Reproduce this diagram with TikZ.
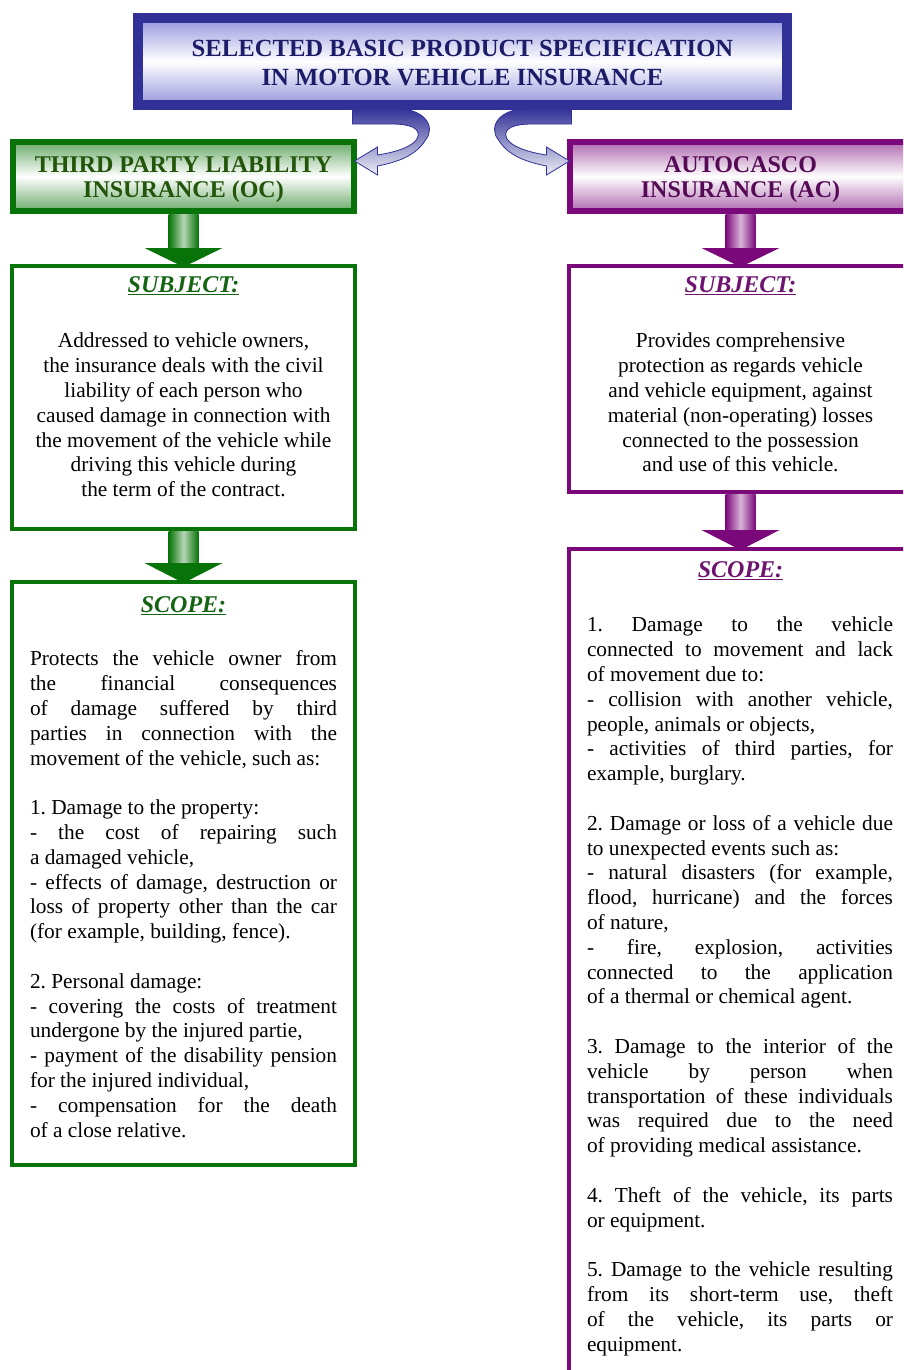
\documentclass[tikz,border=0pt]{standalone}
\usepackage{fontspec}
\setmainfont{Liberation Serif}
\usetikzlibrary{calc}
\definecolor{tblue}{RGB}{48,48,150}
\definecolor{tlav}{RGB}{150,150,222}
\definecolor{tgreen}{RGB}{8,115,8}
\definecolor{tpurple}{RGB}{122,8,122}
\definecolor{navytext}{RGB}{28,28,105}
\definecolor{octext}{RGB}{35,85,10}
\definecolor{actext}{RGB}{85,10,85}
\definecolor{ocsubj}{RGB}{20,100,20}
\definecolor{acsubj}{RGB}{110,20,110}
\tikzset{
  frame/.style={draw, inner sep=0pt, outer sep=0pt},
  headbox/.style={frame, line width=4.5pt, minimum width=255.75pt, minimum height=51.75pt},
  contentbox/.style={frame, fill=white, line width=3.375pt, minimum width=257.25pt},
  bodytext/.style={inner sep=0pt, outer sep=0pt, font=\fontsize{16}{18.6}\selectfont},
  headtext/.style={inner sep=0pt, outer sep=0pt, anchor=north, align=center, font=\fontsize{18}{18.75}\selectfont\bfseries},
  sectlabel/.style={inner sep=0pt, outer sep=0pt, anchor=base, font=\fontsize{18}{20}\selectfont\bfseries\itshape},
  ribbon/.style={top color=tblue, bottom color=tblue!8, draw=tblue, line width=0.6pt}
}
\newcommand\parsetup{\parindent0pt\parskip0pt\leftskip0pt\rightskip0pt\parfillskip0pt plus 1fil
  \tolerance10000\hbadness10000\hfuzz20pt\hyphenpenalty10000\frenchspacing
  \spaceskip=4pt plus 20pt minus 1.8pt\xspaceskip=\spaceskip}
\begin{document}
\begin{tikzpicture}[x=0.75pt,y=-0.75pt]
\useasboundingbox (0,0) rectangle (903,1370);
\clip (0,0) rectangle (903,1370);

% ---------- title ----------
\node[frame, draw=tblue, line width=7.5pt, top color=tlav, bottom color=tlav, middle color=white,
      minimum width=486.75pt, minimum height=65.25pt] (title) at (462.5,61.5) {};
\node[inner sep=0pt, outer sep=0pt, anchor=north, align=center, text=navytext,
      font=\fontsize{18.5}{21}\selectfont\bfseries] (titletxt) at (462.5,37.4)
  {\strut SELECTED BASIC PRODUCT SPECIFICATION\\IN MOTOR VEHICLE INSURANCE};

% ---------- header boxes ----------
\node[headbox, draw=tgreen, top color=tgreen!60, bottom color=tgreen!60, middle color=white] (ochead) at (183.5,176.5) {};
\node[headtext, text=octext] (ocheadtxt) at (183.5,154.5) {\strut THIRD PARTY LIABILITY\\INSURANCE (OC)};

\node[headbox, draw=tpurple, top color=tpurple!60, bottom color=tpurple!60, middle color=white] (achead) at (740.5,176.5) {};
\node[headtext, text=actext] (acheadtxt) at (740.5,154.5) {\strut AUTOCASCO\\INSURANCE (AC)};

% ---------- content boxes ----------
\node[contentbox, draw=tgreen, minimum height=197.25pt] (ocsub) at (183.5,397.5) {};
\node[contentbox, draw=tgreen, minimum height=437.25pt] (ocscope) at (183.5,873.5) {};
\node[contentbox, draw=tpurple, minimum height=169.5pt] (acsub) at (740.5,379) {};
\node[contentbox, draw=tpurple, minimum height=638.25pt] (acscope) at (740.5,974.5) {};

% ---------- curved arrows from the title ----------
\begin{scope}[shift={($(ochead.east)+(0.5,-15.5)$)}]
\shadedraw[ribbon] (-2,-53) -- (37,-53) .. controls (73,-53) and (81,-33) .. (71,-21)
  .. controls (61,-5) and (43,1) .. (23,5) -- (23,14) -- (0,0) -- (23,-14) -- (23,-6)
  .. controls (43,-9) and (59,-15) .. (63,-23) .. controls (67,-33) and (55,-37) .. (37,-37)
  -- (-2,-37) -- cycle;
\end{scope}
\begin{scope}[shift={($(achead.west)+(-0.5,-15.5)$)}, xscale=-1]
\shadedraw[ribbon] (-2,-53) -- (37,-53) .. controls (73,-53) and (81,-33) .. (71,-21)
  .. controls (61,-5) and (43,1) .. (23,5) -- (23,14) -- (0,0) -- (23,-14) -- (23,-6)
  .. controls (43,-9) and (59,-15) .. (63,-23) .. controls (67,-33) and (55,-37) .. (37,-37)
  -- (-2,-37) -- cycle;
\end{scope}

% ---------- block arrows ----------
\shade[left color=tgreen, right color=tgreen, middle color=tgreen!30] ($(ochead.south)+(-15,3)$) rectangle ($(ocsub.north)+(15,-18)$);
\fill[tgreen] ($(ocsub.north)+(-39,-18)$) -- ($(ocsub.north)+(39,-18)$) -- ($(ocsub.north)+(0,1)$) -- cycle;
\shade[left color=tgreen, right color=tgreen, middle color=tgreen!30] ($(ocsub.south)+(-15,2)$) rectangle ($(ocscope.north)+(15,-19)$);
\fill[tgreen] ($(ocscope.north)+(-39,-19)$) -- ($(ocscope.north)+(39,-19)$) -- ($(ocscope.north)+(0,1)$) -- cycle;

\shade[left color=tpurple, right color=tpurple, middle color=tpurple!30] ($(achead.south)+(-15,3)$) rectangle ($(acsub.north)+(15,-18)$);
\fill[tpurple] ($(acsub.north)+(-39,-18)$) -- ($(acsub.north)+(39,-18)$) -- ($(acsub.north)+(0,1)$) -- cycle;
\shade[left color=tpurple, right color=tpurple, middle color=tpurple!30] ($(acsub.south)+(-15,2)$) rectangle ($(acscope.north)+(15,-19)$);
\fill[tpurple] ($(acscope.north)+(-39,-19)$) -- ($(acscope.north)+(39,-19)$) -- ($(acscope.north)+(0,1)$) -- cycle;

% ---------- section labels ----------
\node[sectlabel, text=ocsubj] (ocsublab) at (183.5,292) {\underline{SUBJECT:}};
\node[sectlabel, text=ocsubj] (ocscopelab) at (183.5,612) {\underline{SCOPE:}};
\node[sectlabel, text=acsubj] (acsublab) at (740.5,292) {\underline{SUBJECT:}};
\node[sectlabel, text=acsubj] (acscopelab) at (740.5,577) {\underline{SCOPE:}};

% ---------- subject texts ----------
\node[bodytext, anchor=north, align=center] (ocsubtxt) at (183.5,330.6)
 {\strut Addressed to vehicle owners,\\
  the insurance deals with the civil\\
  liability of each person who\\
  caused damage in connection with\\
  the movement of the vehicle while\\
  driving this vehicle during\\
  the term of the contract.};

\node[bodytext, anchor=north, align=center] (acsubtxt) at (740.5,330.6)
 {\strut Provides comprehensive\\
  protection as regards vehicle\\
  and vehicle equipment, against\\
  material (non-operating) losses\\
  connected to the possession\\
  and use of this vehicle.};

% ---------- scope texts ----------
\node[bodytext, anchor=north west, text width=230.25pt] (ocscopetxt) at (30,648.6)
 {\parsetup\strut Protects the vehicle owner from\linebreak
  the financial consequences\linebreak
  of damage suffered by third\linebreak
  parties in connection with the\linebreak
  movement of the vehicle, such as:\par
  \vskip\baselineskip
  1. Damage to the property:\par
  - the cost of repairing such\linebreak
  a damaged vehicle,\par
  - effects of damage, destruction or\linebreak
  loss of property other than the car\linebreak
  (for example, building, fence).\par
  \vskip\baselineskip
  2. Personal damage:\par
  - covering the costs of treatment\linebreak
  undergone by the injured partie,\par
  - payment of the disability pension\linebreak
  for the injured individual,\par
  - compensation for the death\linebreak
  of a close relative.\par};

\node[bodytext, anchor=north west, text width=229.5pt] (acscopetxt) at (587,614.6)
 {\parsetup\strut 1. Damage to the vehicle\linebreak
  connected to movement and lack\linebreak
  of movement due to:\par
  - collision with another vehicle,\linebreak
  people, animals or objects,\par
  - activities of third parties, for\linebreak
  example, burglary.\par
  \vskip\baselineskip
  2. Damage or loss of a vehicle due\linebreak
  to unexpected events such as:\par
  - natural disasters (for example,\linebreak
  flood, hurricane) and the forces\linebreak
  of nature,\par
  - fire, explosion, activities\linebreak
  connected to the application\linebreak
  of a thermal or chemical agent.\par
  \vskip\baselineskip
  3. Damage to the interior of the\linebreak
  vehicle by person when\linebreak
  transportation of these individuals\linebreak
  was required due to the need\linebreak
  of providing medical assistance.\par
  \vskip\baselineskip
  4. Theft of the vehicle, its parts\linebreak
  or equipment.\par
  \vskip\baselineskip
  5. Damage to the vehicle resulting\linebreak
  from its short-term use, theft\linebreak
  of the vehicle, its parts or\linebreak
  equipment.\par};
\end{tikzpicture}
\end{document}
